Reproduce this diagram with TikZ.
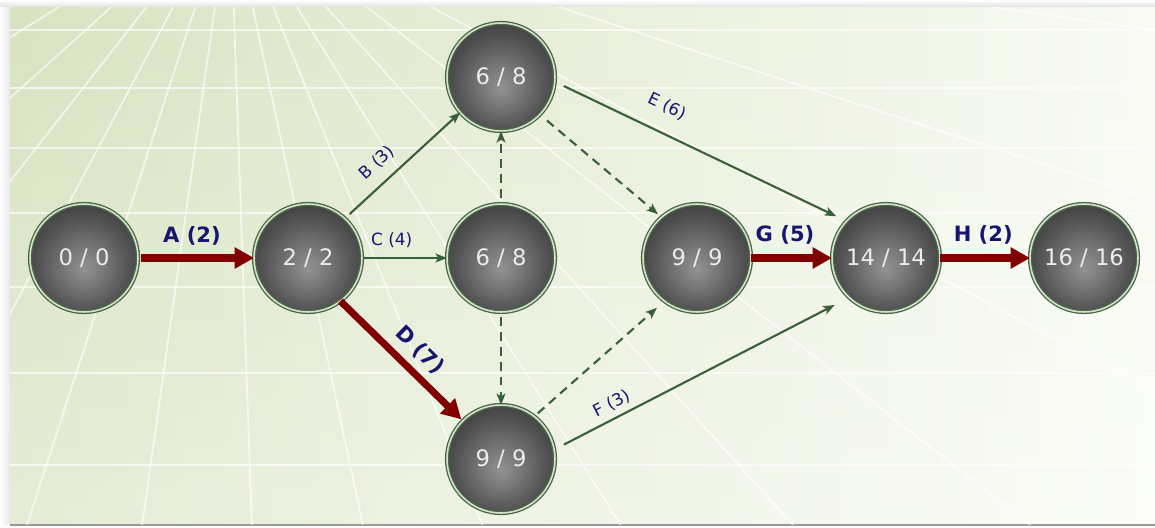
\documentclass[tikz,border=0pt]{standalone}
\usepackage{fontspec}
\setmainfont{DejaVu Sans}
\usetikzlibrary{arrows.meta,fadings}
\definecolor{critred}{RGB}{128,0,0}
\definecolor{actgreen}{RGB}{58,96,58}
\definecolor{lblblue}{RGB}{22,22,112}
\definecolor{ringgreen}{RGB}{72,104,72}
\definecolor{ringlight}{RGB}{214,226,204}
\definecolor{bgA}{RGB}{216,227,193}
\definecolor{bgB}{RGB}{234,240,222}
\definecolor{bgC}{RGB}{249,251,244}
\definecolor{sphA}{RGB}{146,146,146}
\definecolor{sphB}{RGB}{120,120,120}
\definecolor{sphC}{RGB}{80,80,80}
\definecolor{sphD}{RGB}{50,50,50}
\definecolor{sphE}{RGB}{36,36,36}
\definecolor{nodetext}{RGB}{236,236,236}
\pgfdeclareradialshading{sphereshade}{\pgfpoint{0bp}{-5bp}}{%
  color(0bp)=(sphA); color(9bp)=(sphB); color(22bp)=(sphC); color(34bp)=(sphD); color(50bp)=(sphE)}
\begin{document}
\begin{tikzpicture}[x=0.02cm,y=-0.02cm,
  ball/.style={circle, minimum size=2.16cm, inner sep=0pt, outer sep=0pt,
    shade, shading=sphereshade, draw=ringgreen, double=ringlight,
    double distance=0.9pt, line width=0.75pt, text=nodetext,
    font=\fontsize{12.9}{15}\selectfont},
  crit/.style={draw=critred, line width=4pt, -{Triangle[length=11pt,width=11.5pt]}},
  act/.style={draw=actgreen, line width=1.2pt, -{Stealth[length=6.5pt,width=5pt,inset=1.5pt]}},
  dummy/.style={act, dash pattern=on 5pt off 3.5pt},
  lblbig/.style={text=lblblue, font=\fontsize{12}{14}\selectfont\bfseries, sloped, inner sep=0pt},
  lblsmall/.style={text=lblblue, font=\fontsize{9.6}{11}\selectfont, sloped, inner sep=0pt},
  gridline/.style={white, line width=1pt, opacity=0.65}]
\useasboundingbox (0,0) rectangle (1155,527);
% background
\fill[white] (0,0) rectangle (1155,527);
\shade[top color=white, bottom color=black!13] (0,0) rectangle (1155,8);
\shade[left color=white, right color=black!9] (0,8) rectangle (10,524);
\shade[left color=bgA, middle color=bgB, right color=bgC] (10,8) rectangle (1155,524);
\fill[white, opacity=0.35, path fading=north] (10,8) rectangle (1155,524);
\draw[black!40, line width=1pt] (10,525) -- (1155,525);
\begin{scope}
  \clip (10,8) rectangle (1155,524);
  \foreach \yy in {30,88,148,213,287,373,465}
    \draw[gridline] (10,\yy) -- (1155,\yy);
  \foreach \a in {-58,-48,...,82}
    \draw[gridline] (230,-100) -- ++({2500*sin(\a)},{2500*cos(\a)});
\end{scope}
% nodes
\node[ball] (n00)   at (84,258)   {0 / 0};
\node[ball] (n22)   at (308,258)  {2 / 2};
\node[ball] (n68a)  at (501,77)   {6 / 8};
\node[ball] (n68b)  at (501,258)  {6 / 8};
\node[ball] (n99a)  at (501,459)  {9 / 9};
\node[ball] (n99b)  at (697,258)  {9 / 9};
\node[ball] (n1414) at (886,258)  {14 / 14};
\node[ball] (n1616) at (1084,258) {16 / 16};
% dummy activities
\draw[dummy, shorten <=3.4pt] (n68b) -- (n68a);
\draw[dummy, shorten <=2.8pt] (n68b) -- (n99a);
\draw[dummy, shorten <=5.3pt, shorten >=2.6pt] (n68a.-44) -- (n99b.131);
\draw[dummy, shorten <=2.7pt, shorten >=5.7pt] (n99a.52) -- (n99b.233);
% normal activities
\draw[act, shorten <=3.7pt] (n22.47) -- (n68a.221)
  node[lblsmall, pos=0.393, yshift=11.1pt] {B (3)};
\draw[act, shorten <=1.1pt] (n22) -- (n68b)
  node[lblsmall, pos=0.35, yshift=10.2pt] {C (4)};
\draw[act, shorten <=5.7pt, shorten >=6.5pt] (n68a.-5) -- (n1414.137)
  node[lblsmall, pos=0.346, yshift=14.7pt] {E (6)};
\draw[act, shorten <=6.2pt, shorten >=9.3pt] (n99a.10) -- (n1414.227)
  node[lblsmall, pos=0.217, yshift=8.2pt] {F (3)};
% critical path
\draw[crit, shorten <=1.7pt] (n00) -- (n22)
  node[lblbig, pos=0.465, yshift=12.5pt] {A (2)};
\draw[crit, shorten >=1.2pt] (n22.-53) -- (n99a.135)
  node[lblbig, pos=0.531, yshift=11.6pt] {D (7)};
\draw[crit] (n99b) -- (n1414)
  node[lblbig, pos=0.42, yshift=13pt] {G (5)};
\draw[crit] (n1414) -- (n1616)
  node[lblbig, pos=0.48, yshift=13pt] {H (2)};
\end{tikzpicture}
\end{document}
